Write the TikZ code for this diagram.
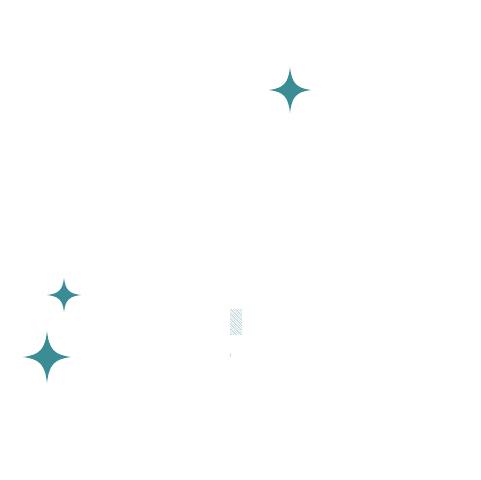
\documentclass[tikz,border=0pt]{standalone}
\usepackage{xcolor}
\usepackage{tikz}
\definecolor{sparkleteal}{HTML}{3A8D95}

\begin{document}
\begin{tikzpicture}[
    x=0.02cm, y=-0.02cm,
    sparkle/.style={fill=sparkleteal, draw=none},
    speckle/.style={fill=sparkleteal!45, draw=none, opacity=0.6},
    pics/star/.style={code={
        \fill[sparkle] (0,-1) .. controls (0.08,-0.3) and (0.3,-0.08) .. (1,0)
                              .. controls (0.3,0.08) and (0.08,0.3) .. (0,1)
                              .. controls (-0.08,0.3) and (-0.3,0.08) .. (-1,0)
                              .. controls (-0.3,-0.08) and (-0.08,-0.3) .. cycle;
    }}
]

% page
\useasboundingbox (0,0) rectangle (480,480);

% Sparkles
\pic[xscale=21, yscale=23] (big_top) at (290,90) {star};
\pic[xscale=17, yscale=17] (small_left) at (64,295) {star};
\pic[xscale=24, yscale=26] (big_left) at (47,357) {star};

% Faint speckle
\foreach \i in {0,...,11}
  \foreach \j in {0,...,25}
    {\pgfmathsetmacro{\keep}{mod(\i*7+\j*13,5)}
     \ifdim\keep pt<3pt
       \fill[speckle] ({230+\i},{309+\j}) rectangle ++(1,1);
     \fi}
\fill[speckle] (229.5,353) rectangle (231,357);

\end{tikzpicture}
\end{document}
